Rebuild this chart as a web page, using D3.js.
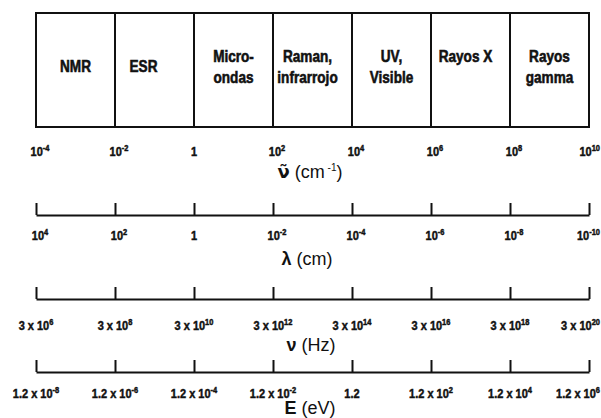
<!DOCTYPE html>
<html>
<head>
<meta charset="utf-8">
<script src="https://cdn.jsdelivr.net/npm/d3@7"></script>
<style>
  html, body { margin: 0; padding: 0; background: #fff; }
  svg { display: block; }
  .cell-label { font-family: "Liberation Sans", Arial, sans-serif; font-weight: bold; font-size: 17px; fill: #111; }
  .tick-label { font-family: "Liberation Sans", Arial, sans-serif; font-weight: bold; font-size: 12.5px; fill: #111; }
  .axis-title { font-family: "Liberation Sans", Arial, sans-serif; font-size: 18px; fill: #111; }
</style>
</head>
<body>
<svg id="chart" width="601" height="418"></svg>
<script>
// Spectral regions, from low to high wavenumber (each entry: lines of its label)
const regions = [
  ["NMR"],
  ["ESR"],
  ["Micro-", "ondas"],
  ["Raman,", "infrarrojo"],
  ["UV,", "Visible"],
  ["Rayos X"],
  ["Rayos", "gamma"]
];

// Decade exponents at the region boundaries for each scale
const wavenumberExp = [-4, -2, 0, 2, 4, 6, 8, 10];    // cm^-1
const wavelengthExp = [4, 2, 0, -2, -4, -6, -8, -10];  // cm
const frequencyExp  = [6, 8, 10, 12, 14, 16, 18, 20];  // Hz
const energyExp     = [-8, -6, -4, -2, 0, 2, 4, 6];    // eV

const frequencyMantissa = 3;
const energyMantissa = 1.2;

const svg = d3.select("#chart");
const W = 601;
const left = 36, right = 589;

// Horizontal position is shared by all scales: one region per two decades
const xWave = d3.scaleLog().domain([1e-4, 1e10]).range([left, right]);
const xLambda = d3.scaleLog().domain([1e4, 1e-10]).range([left, right]);
const xFreq = d3.scaleLog().domain([3e6, 3e20]).range([left, right]);
const xEnergy = d3.scaleLog().domain([1.2e-8, 1.2e6]).range([left, right]);

// ---- Region boxes ----
const boxTop = 13, boxBottom = 127;
const bounds = wavenumberExp.map(e => xWave(Math.pow(10, e)));

svg.append("g").selectAll("line")
  .data(bounds)
  .join("line")
  .attr("x1", d => d).attr("x2", d => d)
  .attr("y1", boxTop).attr("y2", boxBottom)
  .attr("stroke", "#111").attr("stroke-width", 2);

svg.append("g").selectAll("line")
  .data([boxTop, boxBottom])
  .join("line")
  .attr("x1", left - 1).attr("x2", right + 1)
  .attr("y1", d => d).attr("y2", d => d)
  .attr("stroke", "#111").attr("stroke-width", 2);

// Region labels: condensed bold, one or two lines per cell
const cellShift = { "ESR": -11, "Raman,": -5, "Rayos X": -5 };
const cellG = svg.append("g");
regions.forEach((lines, i) => {
  const cx = (bounds[i] + bounds[i + 1]) / 2 + (cellShift[lines[0]] || 0);
  const baselines = lines.length === 1 ? [lines[0] === "Rayos X" ? 62 : 72] : [62, 83];
  lines.forEach((ln, j) => {
    cellG.append("text")
      .attr("class", "cell-label")
      .attr("transform", `translate(${cx},${baselines[j]}) scale(0.8,1)`)
      .attr("text-anchor", "middle")
      .attr("stroke", "#111").attr("stroke-width", 0.6)
      .text(ln);
  });
});

// ---- Tick labels ----
function powerLabel(g, x, y, mantissa, exp, anchor) {
  const t = g.append("text").attr("class", "tick-label")
    .attr("transform", `translate(${x},${y}) scale(0.88,1)`)
    .attr("text-anchor", anchor)
    .attr("stroke", "#111").attr("stroke-width", 0.45);
  if (exp === 0) {
    t.text(mantissa === 1 ? "1" : String(mantissa));
    return;
  }
  const base = (mantissa === 1 ? "" : mantissa + " x ") + "10";
  t.append("tspan").text(base);
  t.append("tspan")
    .attr("dy", -5)
    .attr("font-size", "8.5px")
    .text(exp < 0 ? "-" + Math.abs(exp) : String(exp));
}

function drawAxis(scale, values, yLine, yLabel, mantissa, dx) {
  const g = svg.append("g");
  if (yLine !== null) {
    const axis = d3.axisTop(scale)
      .tickValues(values.map(e => mantissa * Math.pow(10, e)))
      .tickSize(12)
      .tickSizeOuter(0)
      .tickFormat("");
    const ag = g.append("g").attr("transform", `translate(0,${yLine})`).call(axis);
    ag.select(".domain").attr("stroke", "#111").attr("stroke-width", 2.2);
    ag.selectAll(".tick line").attr("stroke", "#111").attr("stroke-width", 2);
  }
  values.forEach((e, i) => {
    const x = scale(mantissa * Math.pow(10, e));
    if (i === values.length - 1) {
      // last label sits against the right edge
      powerLabel(g, W - 1, yLabel, mantissa, e, "end");
    } else {
      powerLabel(g, x + (e === 0 ? 0 : dx), yLabel, mantissa, e, "middle");
    }
  });
}

drawAxis(xWave, wavenumberExp, null, 156, 1, 4);
drawAxis(xLambda, wavelengthExp, 215, 240, 1, 4);
drawAxis(xFreq, frequencyExp, 299, 330, frequencyMantissa, 0);
drawAxis(xEnergy, energyExp, 372, 398, energyMantissa, 0);

// ---- Axis titles ----
const titleX = 310;
const t1 = svg.append("text").attr("class", "axis-title")
  .attr("x", titleX).attr("y", 178).attr("text-anchor", "middle");
t1.append("tspan").attr("font-weight", "bold").attr("font-family", "DejaVu Sans").text("\u03BD\u0303");
t1.append("tspan").text(" (cm");
t1.append("tspan").attr("font-size", "10px").attr("dy", -7).text(" -1");
t1.append("tspan").attr("dy", 7).text(")");

const t2 = svg.append("text").attr("class", "axis-title")
  .attr("x", titleX - 3).attr("y", 265).attr("text-anchor", "middle");
t2.append("tspan").attr("font-weight", "bold").text("\u03BB");
t2.append("tspan").text(" (cm)");

const t3 = svg.append("text").attr("class", "axis-title")
  .attr("x", titleX + 1).attr("y", 351).attr("text-anchor", "middle");
t3.append("tspan").attr("font-weight", "bold").text("\u03BD");
t3.append("tspan").text(" (Hz)");

const t4 = svg.append("text").attr("class", "axis-title")
  .attr("x", titleX).attr("y", 414).attr("font-size", "16px").attr("text-anchor", "middle");
t4.append("tspan").attr("font-weight", "bold").text("E");
t4.append("tspan").text(" (eV)");
</script>
</body>
</html>
